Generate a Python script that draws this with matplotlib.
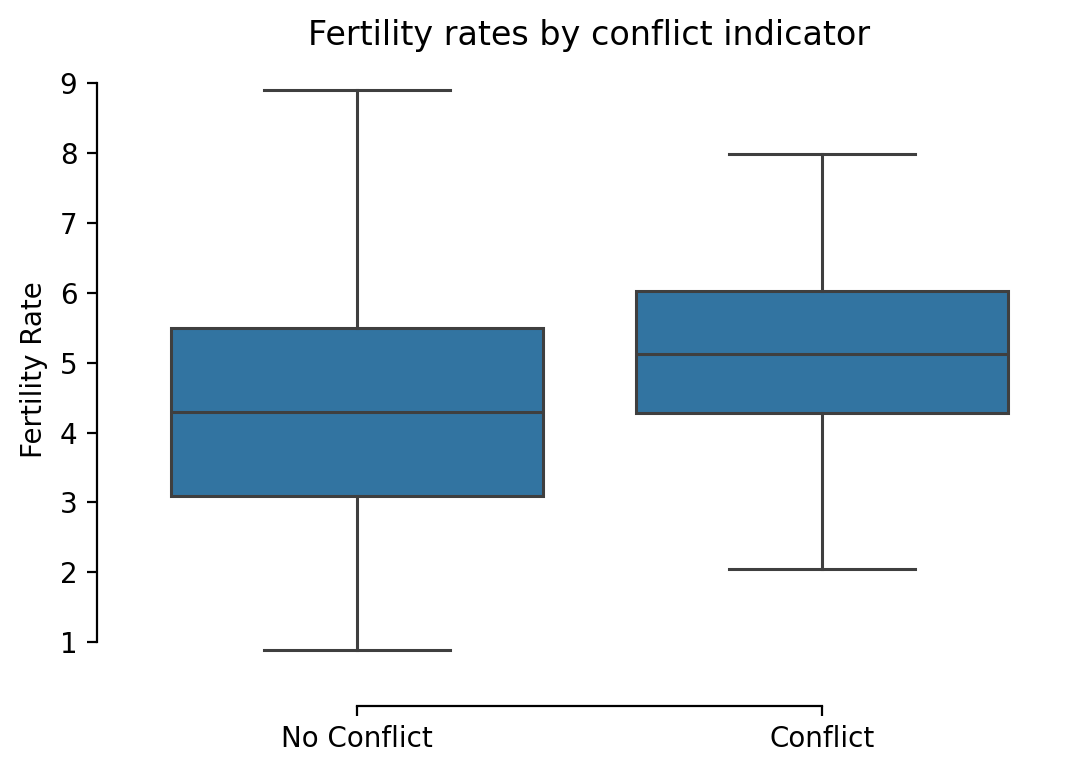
import matplotlib
matplotlib.use('Agg')
import matplotlib.pyplot as plt
import seaborn as sns

categories = ['No Conflict', 'Conflict']
whisker_low = [0.89, 2.05]
q1 = [3.09, 4.28]
median = [4.29, 5.12]
q3 = [5.495, 6.02]
whisker_high = [8.9, 7.98]

box_color = '#3274a1'
line_color = '#3f3f3f'

fig = plt.figure(figsize=(5.37, 3.865), dpi=200)
ax = fig.add_axes([124.5 / 1074, 1 - 678 / 773, 930 / 1074, 616 / 773])

stats = []
for i, name in enumerate(categories):
    stats.append(dict(label=name, whislo=whisker_low[i], q1=q1[i], med=median[i],
                      q3=q3[i], whishi=whisker_high[i], fliers=[]))

ax.bxp(stats, positions=range(len(categories)), widths=0.8, patch_artist=True,
       showfliers=False,
       boxprops=dict(facecolor=box_color, edgecolor=line_color, linewidth=1.1),
       medianprops=dict(color=line_color, linewidth=1.1),
       whiskerprops=dict(color=line_color, linewidth=1.1),
       capprops=dict(color=line_color, linewidth=1.1))

ax.set_xlim(-0.5, 1.5)
ax.set_ylim(0.49, 9.3)
ax.set_yticks(range(1, 10))
ax.set_ylabel('Fertility Rate')
ax.set_title('Fertility rates by conflict indicator', fontsize=12)
sns.despine(ax=ax, offset=10, trim=True)

fig.savefig('out.png', dpi=200)
